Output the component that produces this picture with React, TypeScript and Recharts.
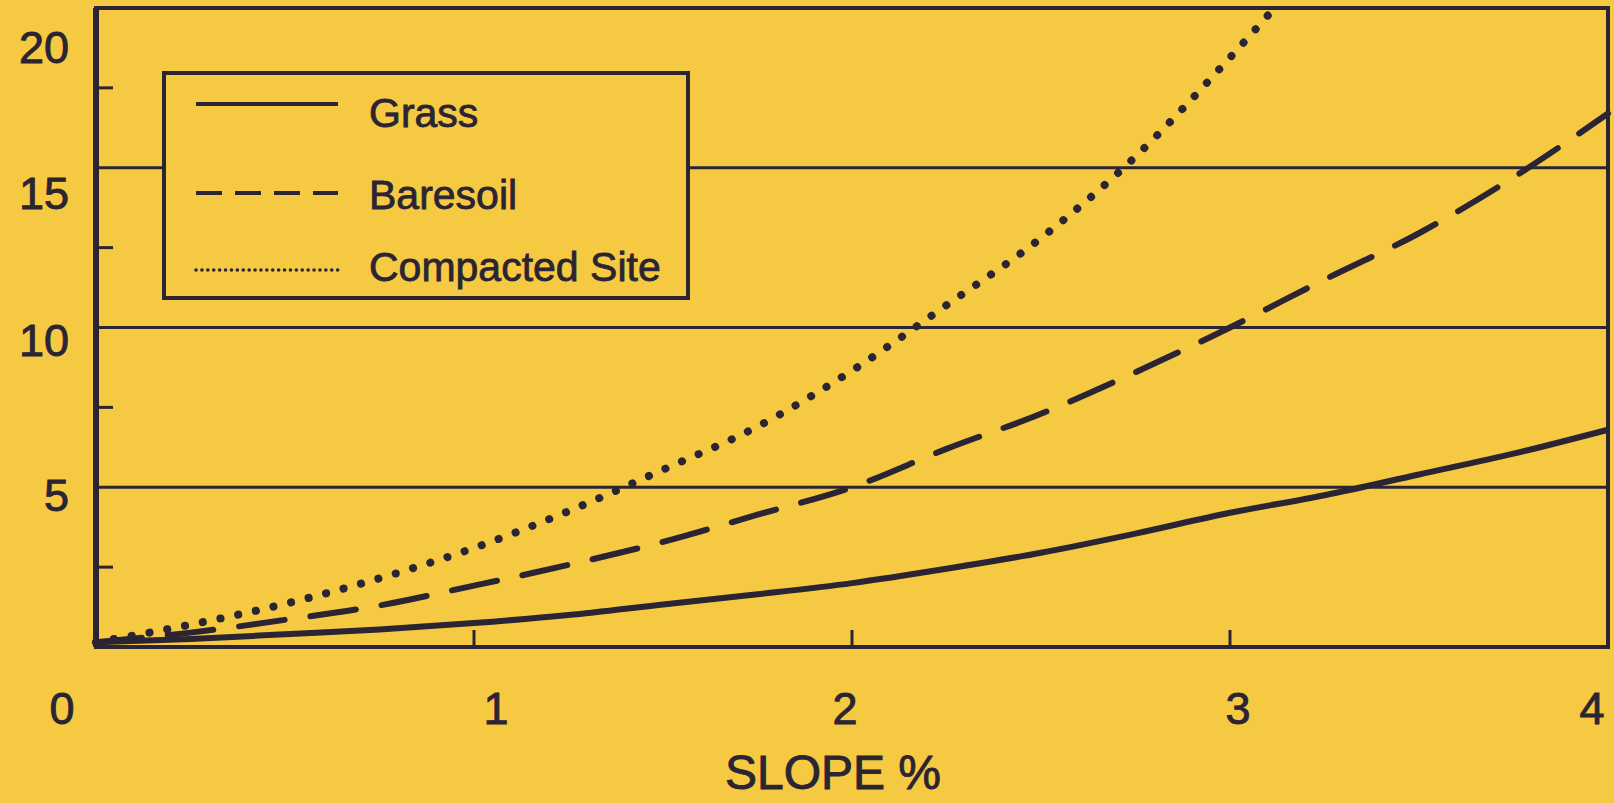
import React from "react";
import { LineChart, Line, XAxis, YAxis, ReferenceLine, ReferenceArea } from "recharts";

// slope (%) sampled every quarter unit
const slope = [0, 0.25, 0.5, 0.75, 1, 1.25, 1.5, 1.75, 2, 2.25, 2.5, 2.75, 3, 3.25, 3.5, 3.75, 4];
const grass = [0.15, 0.25, 0.4, 0.55, 0.75, 1.0, 1.33, 1.65, 2.0, 2.45, 2.95, 3.55, 4.2, 4.75, 5.4, 6.05, 6.8];
const baresoil = [0.15, 0.45, 0.85, 1.3, 1.92, 2.57, 3.29, 4.14, 5.0, 6.2, 7.3, 8.6, 10.0, 11.5, 12.95, 14.7, 16.7];
// runs off the top of the frame just past 3
const compacted = [0.15, 0.7, 1.35, 2.15, 3.1, 4.25, 5.55, 6.9, 8.65, 10.7, 12.8, 15.35, 18.45, 21.8];

const xTicks = [0, 1, 2, 3, 4];
const yTicks = [0, 2.5, 5, 7.5, 10, 12.5, 15, 17.5, 20];
const yMajor = [5, 10, 15, 20];
const gridValues = [5, 10, 15];
const seriesNames = ["Grass", "Baresoil", "Compacted Site"];

const INK = "#2a2433";
const PAPER = "#f6c942";
const FONT = '"Liberation Sans", Arial, Helvetica, sans-serif';

// the printed labels sit a little off their gridlines
const yLabelDrop: Record<number, number> = { 20: 39, 15: 25, 10: 12, 5: 8 };
const xLabelShift: Record<number, number> = { 0: -34, 1: 22, 2: -7, 3: 8, 4: -16 };

// scanned print: thicken the type a little
const inkText = { stroke: INK, strokeWidth: 0.9 };

const chartData = slope.map((s, i) => ({
  slope: s,
  grass: grass[i],
  baresoil: baresoil[i],
  compacted: i < compacted.length ? compacted[i] : null,
}));

const renderXTick = ({ x, y, payload }: any) => {
  const v = payload.value;
  return (
    <g>
      {v > 0 && v < 4 && (
        <line x1={x} x2={x} y1={y} y2={y - 17} stroke={INK} strokeWidth={3} />
      )}
      <text
        x={x + (xLabelShift[v] ?? 0)}
        y={y + 61}
        dy="0.36em"
        textAnchor="middle"
        fontSize={45}
        fontFamily={FONT}
        fill={INK}
        {...inkText}
      >
        {v}
      </text>
    </g>
  );
};

const renderYTick = ({ x, y, payload }: any) => {
  const v = payload.value;
  if (v === 0) return <g />;
  if (!yMajor.includes(v)) {
    return <line x1={x} x2={x + 17} y1={y} y2={y} stroke={INK} strokeWidth={3} />;
  }
  return (
    <text
      x={x - 27}
      y={y + (yLabelDrop[v] ?? 0)}
      dy="0.36em"
      textAnchor="end"
      fontSize={45}
      fontFamily={FONT}
      fill={INK}
      {...inkText}
    >
      {v}
    </text>
  );
};

// legend sample strokes
const legendStrokes = [
  { dash: undefined, width: 4 },
  { dash: "26 13", width: 4 },
  { dash: "0.1 5.8", width: 3.5 },
];
const legendRows = [
  { line: 29, text: 38 },
  { line: 118, text: 120 },
  { line: 195, text: 192 },
];

function SlopeLegend() {
  return (
    <div
      style={{
        position: "absolute",
        left: 162,
        top: 71,
        width: 528,
        height: 229,
        boxSizing: "border-box",
        border: `4px solid ${INK}`,
        background: PAPER,
        fontFamily: FONT,
        color: INK,
      }}
    >
      {seriesNames.map((name, i) => (
        <React.Fragment key={name}>
          <svg
            width={146}
            height={10}
            style={{ position: "absolute", left: 28, top: legendRows[i].line - 5 }}
          >
            <line
              x1={2}
              x2={144}
              y1={5}
              y2={5}
              stroke={INK}
              strokeWidth={legendStrokes[i].width}
              strokeDasharray={legendStrokes[i].dash}
              strokeLinecap={i === 2 ? "round" : "butt"}
            />
          </svg>
          <div
            style={{
              position: "absolute",
              left: 203,
              top: legendRows[i].text - 25,
              height: 50,
              lineHeight: "50px",
              fontSize: 41,
              whiteSpace: "nowrap",
              WebkitTextStroke: `0.8px ${INK}`,
            }}
          >
            {name}
          </div>
        </React.Fragment>
      ))}
    </div>
  );
}

export default function App() {
  return (
    <div
      style={{
        position: "absolute",
        left: 0,
        top: 0,
        width: 1614,
        height: 803,
        background: PAPER,
        overflow: "hidden",
      }}
    >
      <LineChart
        width={1614}
        height={803}
        data={chartData}
        margin={{ top: 8, right: 6, bottom: 0, left: 36 }}
      >
        <XAxis
          dataKey="slope"
          type="number"
          domain={[0, 4]}
          ticks={xTicks}
          interval={0}
          height={156}
          tickSize={0}
          tickMargin={0}
          axisLine={false}
          tick={renderXTick}
          label={{
            value: "SLOPE %",
            position: "insideBottom",
            offset: 14,
            dx: -19,
            style: { fontSize: 48, fontFamily: FONT, fill: INK, ...inkText },
          }}
        />
        <YAxis
          type="number"
          domain={[0, 20]}
          allowDataOverflow
          ticks={yTicks}
          interval={0}
          width={60}
          tickSize={0}
          tickMargin={0}
          axisLine={{ stroke: INK, strokeWidth: 6 }}
          tick={renderYTick}
        />
        {gridValues.map((v) => (
          <ReferenceLine key={v} y={v} stroke={INK} strokeWidth={3} />
        ))}
        <ReferenceArea
          x1={0}
          x2={4}
          y1={0}
          y2={20}
          fill="none"
          fillOpacity={0}
          stroke={INK}
          strokeWidth={4}
        />
        <Line
          type="monotone"
          dataKey="grass"
          name={seriesNames[0]}
          stroke={INK}
          strokeWidth={6}
          dot={false}
          activeDot={false}
          isAnimationActive={false}
        />
        <Line
          type="monotone"
          dataKey="baresoil"
          name={seriesNames[1]}
          stroke={INK}
          strokeWidth={6}
          strokeDasharray="46 26"
          strokeLinecap="round"
          dot={false}
          activeDot={false}
          isAnimationActive={false}
        />
        <Line
          type="monotone"
          dataKey="compacted"
          name={seriesNames[2]}
          stroke={INK}
          strokeWidth={8}
          strokeDasharray="0.1 18"
          strokeLinecap="round"
          dot={false}
          activeDot={false}
          isAnimationActive={false}
        />
      </LineChart>
      <SlopeLegend />
    </div>
  );
}
